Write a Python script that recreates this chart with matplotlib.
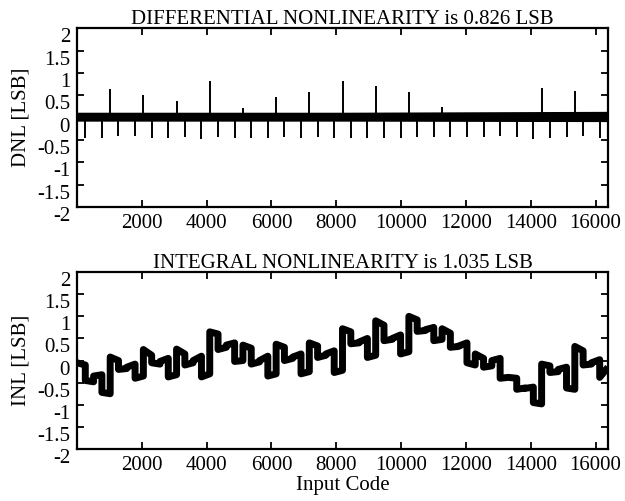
import matplotlib
matplotlib.use('Agg')
import matplotlib.pyplot as plt
import matplotlib.transforms as mtransforms
import numpy as np

plt.rcParams['font.family'] = ['Liberation Serif', 'DejaVu Serif']
plt.rcParams['axes.unicode_minus'] = False

seg_len = 256  # codes per sub-range segment

# DNL: narrow noise band around zero plus spikes at sub-range boundaries
band_codes = [0, 8192, 16384]
band_hi = [0.12, 0.12, 0.14]
band_lo = [-0.08, -0.08, -0.09]

pos_codes = [1024, 2048, 3072, 4096, 5120, 6144, 7168, 8192, 9216, 10240,
             11264, 14336, 15360]
pos_dnl = [0.63, 0.51, 0.37, 0.81, 0.22, 0.45, 0.57, 0.826, 0.70, 0.57,
           0.24, 0.66, 0.60]

neg_codes = [256, 768, 1280, 1792, 2304, 2816, 3328, 3840, 4352, 4864,
             5376, 5888, 6400, 6912, 7424, 7936, 8448, 8960, 9472, 9984,
             10496, 11008, 11520, 12032, 12544, 13056, 13568, 14080, 14592,
             15104, 15616, 16128]
neg_dnl = [-0.46, -0.46, -0.41, -0.42, -0.46, -0.46, -0.44, -0.48, -0.43,
           -0.46, -0.46, -0.46, -0.44, -0.46, -0.44, -0.46, -0.46, -0.46,
           -0.46, -0.46, -0.44, -0.44, -0.44, -0.44, -0.44, -0.41, -0.44,
           -0.48, -0.46, -0.44, -0.41, -0.46]

# INL: value at start and end of every 256-code segment
inl_start = [-0.05, -0.45, -0.35, -0.72,
             0.08, -0.20, -0.15, -0.40,
             0.25, -0.05, -0.02, -0.37,
             0.26, -0.10, 0.00, -0.37,
             0.65, 0.25, 0.35, -0.02,
             0.35, -0.08, 0.00, -0.35,
             0.37, 0.00, 0.08, -0.30,
             0.40, 0.07, 0.15, -0.27,
             0.72, 0.38, 0.42, 0.07,
             0.90, 0.45, 0.50, 0.15,
             1.00, 0.66, 0.70, 0.45,
             0.72, 0.30, 0.33, -0.05,
             0.15, -0.15, 0.00, -0.40,
             -0.38, -0.65, -0.63, -0.95,
             -0.08, -0.27, -0.20, -0.62,
             0.32, -0.10, -0.05, -0.38]
inl_end = [-0.10, -0.48, -0.32, -0.75,
           0.00, -0.18, -0.08, -0.35,
           0.12, -0.08, 0.05, -0.32,
           0.15, -0.05, 0.10, -0.30,
           0.60, 0.30, 0.40, 0.00,
           0.28, -0.03, 0.10, -0.30,
           0.30, 0.05, 0.15, -0.25,
           0.33, 0.12, 0.22, -0.22,
           0.65, 0.40, 0.50, 0.12,
           0.80, 0.48, 0.58, 0.20,
           0.92, 0.68, 0.75, 0.48,
           0.62, 0.32, 0.40, -0.10,
           0.05, -0.12, 0.05, -0.38,
           -0.40, -0.62, -0.60, -0.98,
           -0.12, -0.25, -0.15, -0.65,
           0.22, -0.08, 0.02, -0.15]

x_ticks = [2000, 4000, 6000, 8000, 10000, 12000, 14000, 16000]
y_ticks = [-2, -1.5, -1, -0.5, 0, 0.5, 1, 1.5, 2]
y_ticklabels = ['-2', '-1.5', '-1', '-0.5', '0', '0.5', '1', '1.5', '2']

fig = plt.figure(figsize=(6.25, 5.01), dpi=100)
ax1 = fig.add_axes([0.1232, 0.5868, 0.8496, 0.357])
ax2 = fig.add_axes([0.1232, 0.1038, 0.8496, 0.353])


def style(ax):
    ax.set_xlim(0, 16384)
    ax.set_ylim(-2, 2)
    ax.set_xticks(x_ticks)
    ax.set_xticklabels([str(t) for t in x_ticks])
    ax.set_yticks(y_ticks)
    ax.set_yticklabels(y_ticklabels)
    ax.tick_params(direction='in', top=True, right=True, length=5,
                   width=1.3, labelsize=15, pad=5)
    for s in ax.spines.values():
        s.set_linewidth(1.6)
    # tick labels in the original sit a few pixels below their ticks
    offset = mtransforms.ScaledTranslation(0, -0.07, fig.dpi_scale_trans)
    for lab in ax.get_yticklabels():
        lab.set_transform(lab.get_transform() + offset)


# top: DNL
ax1.fill_between(band_codes, band_lo, band_hi, color='black', lw=0)
ax1.vlines(pos_codes, 0, pos_dnl, color='black', lw=1.4)
ax1.vlines(neg_codes, 0, neg_dnl, color='black', lw=1.4)
style(ax1)
ax1.set_title('DIFFERENTIAL NONLINEARITY is 0.826 LSB', fontsize=15, pad=3)
ax1.set_ylabel('DNL [LSB]', fontsize=15, labelpad=5)

# bottom: INL
xs = []
ys = []
for k in range(len(inl_start)):
    xs += [k * seg_len, (k + 1) * seg_len]
    ys += [inl_start[k], inl_end[k]]
ax2.plot(xs, ys, color='black', lw=5, solid_joinstyle='round',
         solid_capstyle='butt')
style(ax2)
ax2.set_title('INTEGRAL NONLINEARITY is 1.035 LSB', fontsize=15, pad=3)
ax2.set_ylabel('INL [LSB]', fontsize=15, labelpad=5)
ax2.set_xlabel('Input Code', fontsize=15, labelpad=1)

fig.savefig('out.png', dpi=100)
